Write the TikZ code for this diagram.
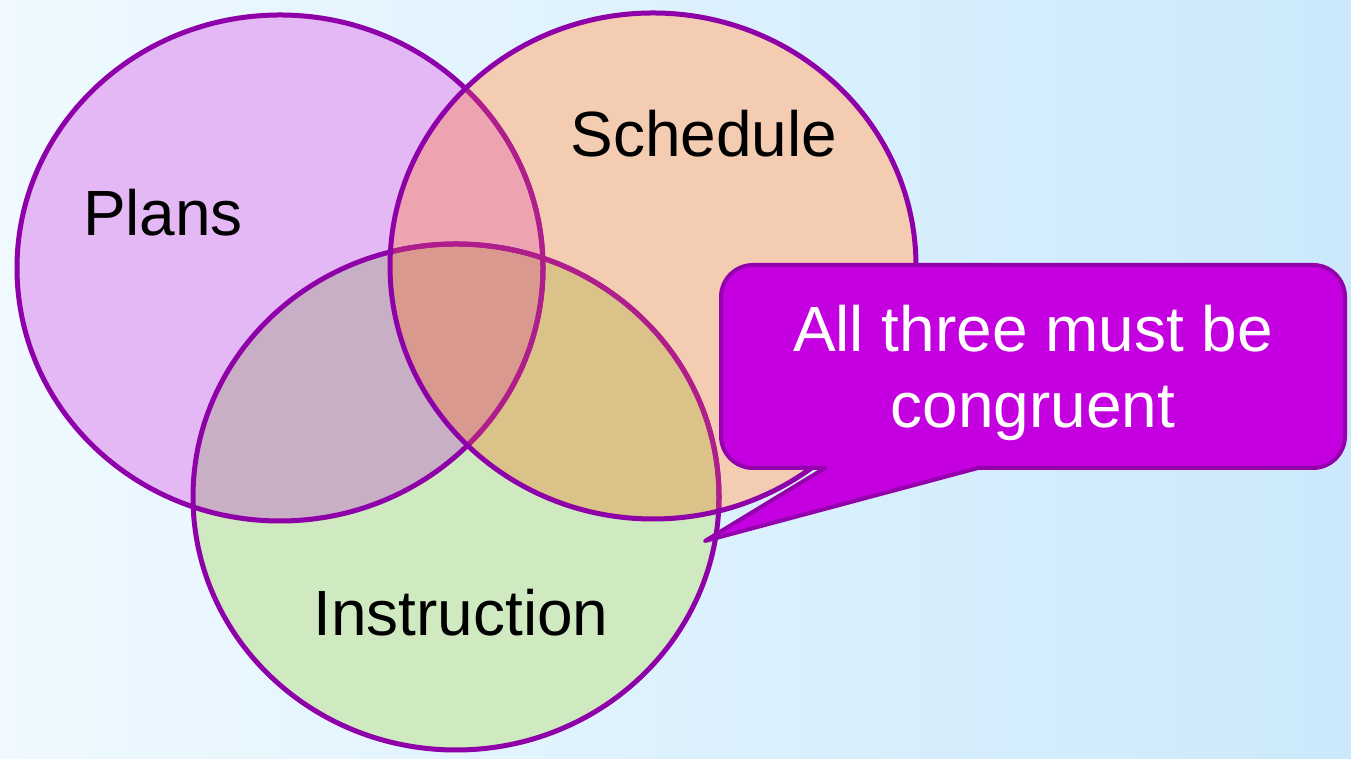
\documentclass[tikz,border=0pt]{standalone}
\usepackage{fontspec}
\setmainfont{Liberation Sans}
\usepackage{xcolor}
\definecolor{bgleft}{HTML}{EFF9FF}
\definecolor{bgright}{HTML}{CBE9FB}
\definecolor{ringpurple}{HTML}{8E00A8}
\definecolor{ringtint}{HTML}{B01E8C}
\definecolor{planscol}{HTML}{E3B8F4}
\definecolor{schedcol}{HTML}{F3CCB2}
\definecolor{instrcol}{HTML}{CFEAC0}
\definecolor{pscol}{HTML}{EDA3B0}
\definecolor{picol}{HTML}{C9AFC6}
\definecolor{sicol}{HTML}{DBC288}
\definecolor{psicol}{HTML}{D9998E}
\definecolor{calloutfill}{HTML}{C400E0}
\definecolor{calloutline}{HTML}{9400AC}

\tikzset{
  ring/.style={draw=ringpurple, line width=0.1cm},
  setlabel/.style={font=\fontsize{36.4}{43.2}\selectfont, anchor=base},
  callout/.style={fill=calloutfill, draw=calloutline, line width=0.08cm},
  calltext/.style={font=\fontsize{36.4}{43.2}\selectfont, text=white, align=center}
}

\begin{document}
\begin{tikzpicture}[x=0.02cm, y=0.02cm, line join=round, line cap=round]
  \useasboundingbox (0,0) rectangle (1351,759);
  \shade[left color=bgleft, right color=bgright] (0,0) rectangle (1351,759);

  \coordinate (p) at (280,491);
  \coordinate (s) at (653,493);
  \coordinate (i) at (456,262);
  \def\plansset{(p) ellipse [x radius=263, y radius=253]}
  \def\schedset{(s) ellipse [x radius=263, y radius=253]}
  \def\instrset{(i) ellipse [x radius=263, y radius=253]}

  \fill[planscol] \plansset;
  \fill[schedcol] \schedset;
  \fill[instrcol] \instrset;
  \begin{scope}
    \clip \schedset;
    \fill[sicol] \instrset;
  \end{scope}
  \begin{scope}
    \clip \plansset;
    \fill[pscol] \schedset;
    \fill[picol] \instrset;
    \clip \schedset;
    \fill[psicol] \instrset;
  \end{scope}

  \draw[ring] \plansset;
  \draw[ring] \instrset;
  \begin{scope}
    \clip \schedset;
    \draw[ring, draw=ringtint] \plansset;
    \draw[ring, draw=ringtint] \instrset;
  \end{scope}
  \draw[ring] \schedset;

  \node[setlabel] (plans) at (163,523) {Plans};
  \node[setlabel] (sched) at (704,602) {Schedule};
  \node[setlabel] (instr) at (461,123) {Instruction};

  \coordinate (tip) at (705,218);
  \draw[callout] (978,291) -- (1313,291) arc [start angle=-90, end angle=0, radius=32]
    -- (1345,462) arc [start angle=0, end angle=90, radius=32]
    -- (753,494) arc [start angle=90, end angle=180, radius=32]
    -- (721,323) arc [start angle=180, end angle=270, radius=32]
    -- (825,291) -- (tip) -- cycle;
  \node[calltext] (note) at (1033,386) {All three must be\\congruent};
\end{tikzpicture}
\end{document}
